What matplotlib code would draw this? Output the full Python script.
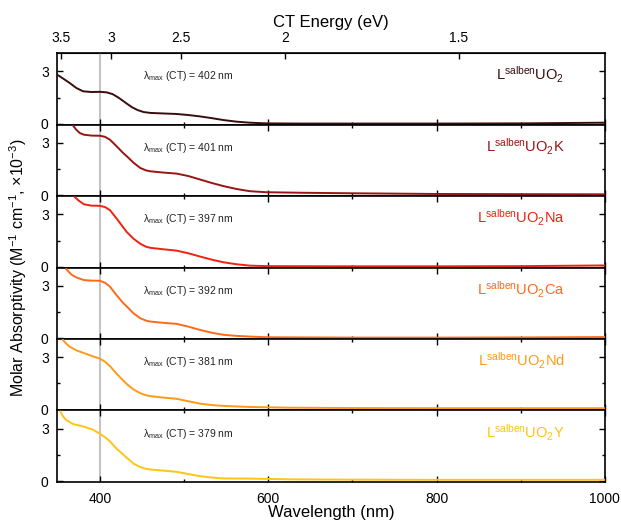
import matplotlib
matplotlib.use('Agg')
from matplotlib import pyplot as plt
from matplotlib.ticker import FixedLocator, NullLocator

plt.rcParams['font.family'] = ['Liberation Sans', 'DejaVu Sans']
plt.rcParams['mathtext.fontset'] = 'custom'
plt.rcParams['mathtext.rm'] = 'Liberation Sans'
plt.rcParams['mathtext.it'] = 'Liberation Sans:italic'
plt.rcParams['mathtext.bf'] = 'Liberation Sans:bold'

''' Data read off the spectra (nm, M^-1 cm^-1 x 10^-3) '''
wl_uo2 = [349, 356, 364, 372, 380, 390, 400, 408, 415, 422, 430, 438, 445, 452, 460,
          475, 491, 505, 519, 533, 547, 562, 578, 598, 640, 700, 800, 900, 950, 1000]
eps_uo2 = [2.82, 2.6, 2.34, 2.05, 1.86, 1.82, 1.83, 1.8, 1.7, 1.5, 1.22, 0.95, 0.78, 0.67, 0.62,
           0.59, 0.56, 0.5, 0.42, 0.32, 0.21, 0.12, 0.06, 0.02, 0.01, 0.01, 0.01, 0.02, 0.04, 0.06]

wl_k = [368, 372, 376, 381, 390, 400, 406, 412, 420, 427, 432, 440, 448, 455, 460,
        475, 491, 505, 519, 533, 547, 562, 578, 598, 640, 700, 800, 900, 1000]
eps_k = [4.0, 3.75, 3.57, 3.47, 3.42, 3.41, 3.35, 3.18, 2.8, 2.45, 2.23, 1.86, 1.56, 1.42, 1.37,
         1.3, 1.24, 1.1, 0.9, 0.7, 0.52, 0.36, 0.23, 0.17, 0.14, 0.11, 0.07, 0.06, 0.05]

wl_na = [370, 375, 381, 390, 400, 406, 412, 420, 427, 432, 440, 448, 455, 460,
         475, 491, 505, 519, 533, 547, 562, 578, 598, 700, 800, 900, 950, 1000]
eps_na = [4.0, 3.78, 3.58, 3.5, 3.49, 3.42, 3.24, 2.75, 2.3, 1.98, 1.6, 1.31, 1.14, 1.08,
          1.0, 0.92, 0.77, 0.58, 0.4, 0.25, 0.14, 0.06, 0.03, 0.02, 0.02, 0.03, 0.05, 0.07]

wl_ca = [360, 366, 372, 381, 390, 400, 406, 412, 420, 427, 432, 440, 448, 455, 460,
         475, 491, 505, 519, 533, 547, 562, 578, 598, 700, 800, 900, 1000]
eps_ca = [3.96, 3.65, 3.48, 3.33, 3.3, 3.29, 3.18, 2.95, 2.45, 2.05, 1.81, 1.42, 1.14, 1.0, 0.95,
          0.88, 0.82, 0.66, 0.47, 0.31, 0.19, 0.13, 0.09, 0.05, 0.03, 0.03, 0.04, 0.06]

wl_nd = [356, 360, 364, 372, 381, 392, 400, 406, 412, 420, 427, 432, 440, 448, 455, 460,
         475, 491, 505, 519, 533, 547, 578, 625, 700, 800, 900, 1000]
eps_nd = [3.99, 3.78, 3.61, 3.4, 3.24, 3.05, 2.92, 2.75, 2.49, 2.05, 1.7, 1.46, 1.15, 0.94, 0.82, 0.77,
          0.69, 0.62, 0.48, 0.34, 0.26, 0.21, 0.15, 0.11, 0.09, 0.08, 0.08, 0.08]

wl_y = [353, 356, 360, 368, 381, 392, 400, 406, 412, 420, 427, 432, 440, 448, 455, 460,
        475, 491, 505, 519, 533, 547, 578, 625, 700, 800, 900, 1000]
eps_y = [3.98, 3.72, 3.5, 3.27, 3.12, 2.94, 2.71, 2.52, 2.27, 1.85, 1.55, 1.33, 1.0, 0.8, 0.7, 0.66,
         0.6, 0.53, 0.4, 0.28, 0.2, 0.15, 0.14, 0.1, 0.08, 0.07, 0.07, 0.07]

names = [r'L$^{\mathrm{salben}}$UO$_2$', r'L$^{\mathrm{salben}}$UO$_2$K',
         r'L$^{\mathrm{salben}}$UO$_2$Na', r'L$^{\mathrm{salben}}$UO$_2$Ca',
         r'L$^{\mathrm{salben}}$UO$_2$Nd', r'L$^{\mathrm{salben}}$UO$_2$Y']
lmax = [402, 401, 397, 392, 381, 379]
colors = ['#3a0d0d', '#991414', '#ee2211', '#ff6a18', '#ff9a18', '#ffc414']

spectra = [(wl_uo2, eps_uo2), (wl_k, eps_k), (wl_na, eps_na),
           (wl_ca, eps_ca), (wl_nd, eps_nd), (wl_y, eps_y)]

fig, axes = plt.subplots(6, 1, sharex=True, figsize=(6.21, 5.21), dpi=100)
fig.subplots_adjust(left=0.0918, right=0.974, top=0.898, bottom=0.075, hspace=0)

for i, ax in enumerate(axes):
    wl, eps = spectra[i]
    ax.axvline(400, color='#c4c4c4', lw=1.5, zorder=1)
    ax.plot(wl, eps, color=colors[i], lw=1.4, zorder=3)
    ax.set_xlim(349, 1000)
    ax.set_ylim(-0.05, 4.05)
    ax.set_yticks([0, 3])
    ax.yaxis.set_minor_locator(FixedLocator([1.5]))
    ax.xaxis.set_major_locator(FixedLocator([400, 600, 800, 1000]))
    ax.xaxis.set_minor_locator(FixedLocator([500, 700, 900]))
    ax.tick_params(which='both', direction='in', top=True, right=True, width=1.0)
    ax.tick_params(which='major', length=4.5, labelsize=10, pad=6)
    ax.tick_params(which='minor', length=2.5)
    for s in ax.spines.values():
        s.set_linewidth(1.2)
    ax.text(451, 2.55, '\u03bb$_{\\mathrm{max}}$ (CT) = %d nm' % lmax[i],
            fontsize=7.5, color='#222222', ha='left', va='baseline')
    ax.text(952, 2.47, names[i], fontsize=10.5, color=colors[i], ha='right', va='baseline')

axes[0].tick_params(axis='x', which='both', top=False)
axes[-1].tick_params(axis='x', pad=7)

# top axis in energy
sec = axes[0].secondary_xaxis('top', functions=(lambda x: 1239.84 / x, lambda e: 1239.84 / e))
sec.set_xticks([3.5, 3, 2.5, 2, 1.5])
sec.set_xticklabels(['3.5', '3', '2.5', '2', '1.5'])
sec.xaxis.set_minor_locator(NullLocator())
sec.tick_params(direction='in', length=4.5, width=1.0, labelsize=10, pad=6)
sec.set_xlabel('CT Energy (eV)', fontsize=12, labelpad=3)

fig.text(331 / 621, 1 - 513 / 521, 'Wavelength (nm)', fontsize=12, ha='center', va='center')
fig.text(18 / 621, 1 - 267.5 / 521, r'Molar Absorptivity (M$^{-1}$ cm$^{-1}$, $\times$10$^{-3}$)',
         fontsize=11.5, rotation=90, ha='center', va='center')

plt.savefig('out.png', dpi=100)
